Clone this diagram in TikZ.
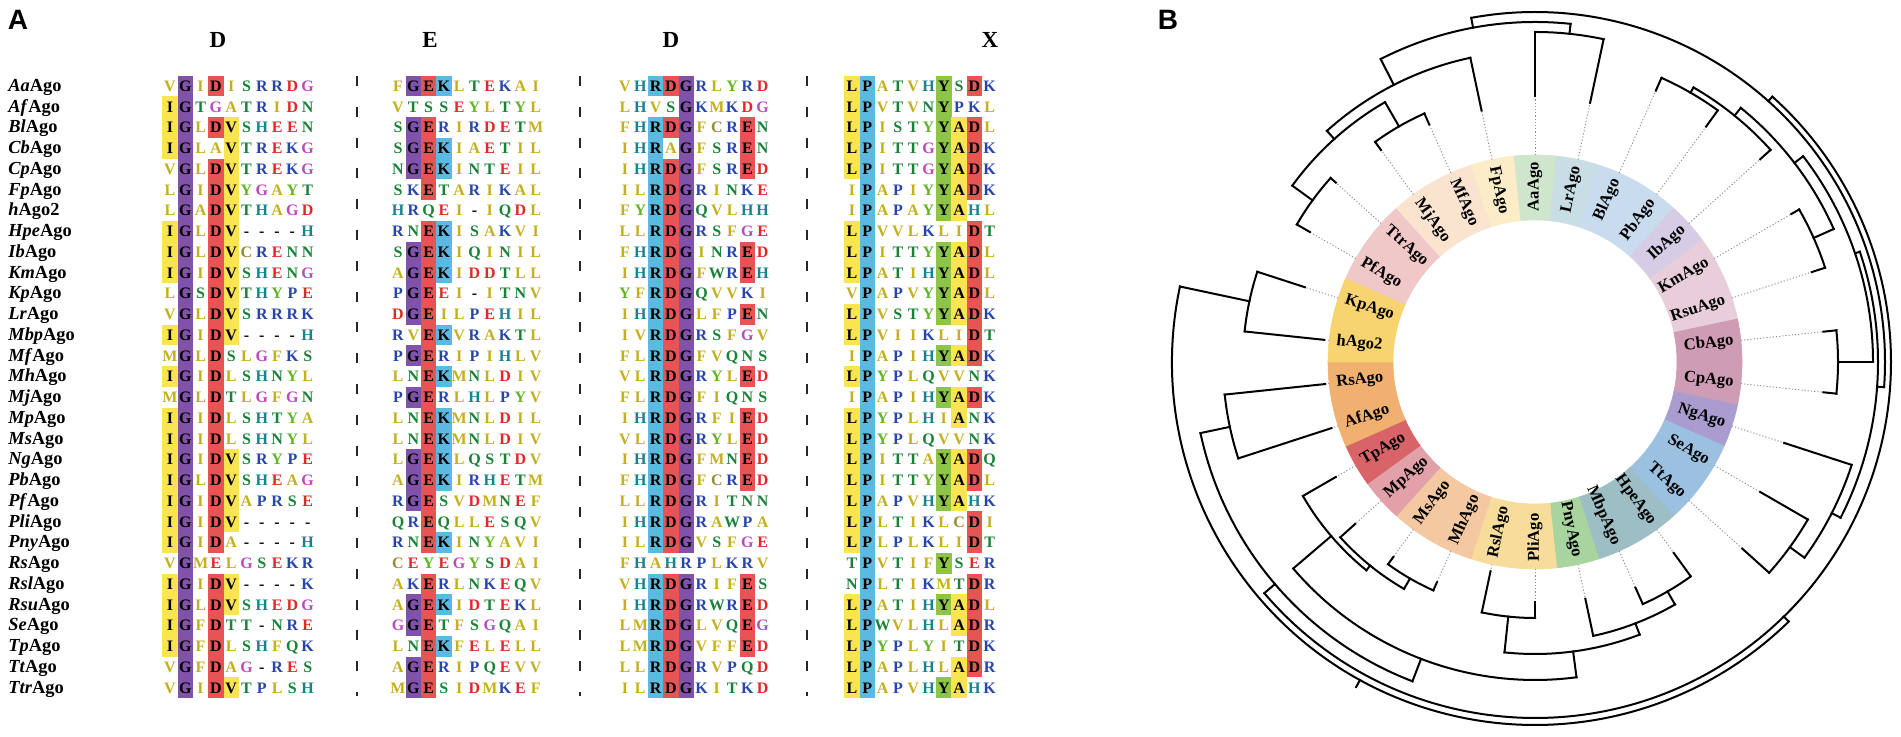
\documentclass[tikz,border=0pt]{standalone}
\usepackage{fontspec}
\setmainfont{Liberation Serif}
\newfontfamily\panelfont{Liberation Sans}

% residue colours
\definecolor{rHyd}{RGB}{196,176,30}
\definecolor{rCys}{RGB}{150,140,50}
\definecolor{rGly}{RGB}{190,70,190}
\definecolor{rBas}{RGB}{40,70,170}
\definecolor{rAcd}{RGB}{225,40,40}
\definecolor{rPol}{RGB}{25,130,55}
\definecolor{rHis}{RGB}{25,130,140}
\definecolor{rTyr}{RGB}{100,180,40}
% conserved column shading
\definecolor{hYel}{RGB}{250,228,80}
\definecolor{hPur}{RGB}{128,82,170}
\definecolor{hRed}{RGB}{232,84,84}
\definecolor{hBlu}{RGB}{92,186,226}
\definecolor{hGrn}{RGB}{142,196,72}
% ring sectors
\definecolor{sGrn}{RGB}{207,230,205}
\definecolor{sSlt}{RGB}{200,222,228}
\definecolor{sSky}{RGB}{200,220,238}
\definecolor{sLav}{RGB}{214,204,230}
\definecolor{sRos}{RGB}{232,206,218}
\definecolor{sMau}{RGB}{206,156,180}
\definecolor{sVio}{RGB}{170,156,206}
\definecolor{sBlu}{RGB}{156,192,224}
\definecolor{sTea}{RGB}{156,190,196}
\definecolor{sLea}{RGB}{168,212,160}
\definecolor{sStr}{RGB}{248,220,156}
\definecolor{sPea}{RGB}{244,200,160}
\definecolor{sPnk}{RGB}{226,160,168}
\definecolor{sRed}{RGB}{216,100,104}
\definecolor{sOra}{RGB}{240,176,112}
\definecolor{sGol}{RGB}{248,212,112}
\definecolor{sBlh}{RGB}{240,200,200}
\definecolor{sCrm}{RGB}{250,228,208}
\definecolor{sIvo}{RGB}{252,236,200}

\newcount\colcnt
\def\setres#1#2{\expandafter\def\csname rc-#1\endcsname{#2}}
\def\sethl#1#2#3#4{\expandafter\def\csname hl-#1-#2-#3\endcsname{#4}}

\setres{A}{rHyd}\setres{V}{rHyd}\setres{I}{rHyd}\setres{L}{rHyd}\setres{M}{rHyd}\setres{F}{rHyd}
\setres{C}{rCys}\setres{G}{rGly}
\setres{R}{rBas}\setres{K}{rBas}\setres{P}{rBas}
\setres{D}{rAcd}\setres{E}{rAcd}
\setres{S}{rPol}\setres{T}{rPol}\setres{N}{rPol}\setres{Q}{rPol}\setres{W}{rPol}
\setres{H}{rHis}\setres{Y}{rTyr}

% block, column, residue -> shade
\sethl{1}{1}{I}{hYel}\sethl{1}{2}{G}{hPur}\sethl{1}{4}{D}{hRed}\sethl{1}{5}{V}{hYel}
\sethl{2}{2}{G}{hPur}\sethl{2}{3}{E}{hRed}\sethl{2}{4}{K}{hBlu}
\sethl{3}{3}{R}{hBlu}\sethl{3}{4}{D}{hRed}\sethl{3}{5}{G}{hPur}\sethl{3}{9}{E}{hRed}
\sethl{4}{1}{L}{hYel}\sethl{4}{2}{P}{hBlu}\sethl{4}{7}{Y}{hGrn}\sethl{4}{8}{A}{hYel}\sethl{4}{9}{D}{hRed}

\newcommand\putres[1]{%
  \advance\colcnt by 1
  \pgfmathsetmacro\cx{\bx+15.3*(\the\colcnt-1)}%
  \ifcsname hl-\blk-\the\colcnt-#1\endcsname
    \edef\hlc{\csname hl-\blk-\the\colcnt-#1\endcsname}%
    \fill[fill=\hlc] (\cx-7.7,\cy-10.45) rectangle (\cx+7.7,\cy+10.45);
    \def\lc{black}%
  \else
    \edef\lc{\ifcsname rc-#1\endcsname\csname rc-#1\endcsname\else black\fi}%
  \fi
  \node[res, text=\lc] (r\blk-\rowid-\the\colcnt) at (\cx,\cyb) {#1};}
\def\scanseq#1{\ifx\relax#1\let\seqnext\relax\else\putres{#1}\let\seqnext\scanseq\fi\seqnext}

\newcommand\alnrow[7]{%
  \def\rowid{#1}%
  \pgfmathsetmacro\cy{651-20.75*#1}%
  \pgfmathsetmacro\cyb{\cy-5.3}%
  \node[seqname] (n#1) at (8,\cyb) {\textit{#2}#3};
  \def\blk{1}\def\bx{170}\colcnt=0 \scanseq#4\relax
  \def\blk{2}\def\bx{398}\colcnt=0 \scanseq#5\relax
  \def\blk{3}\def\bx{625}\colcnt=0 \scanseq#6\relax
  \def\blk{4}\def\bx{852}\colcnt=0 \scanseq#7\relax}

% arc at radius #3 from angle #1 to #2, stem out to #4
\newcommand\clade[4]{%
  \pgfmathsetmacro\cmid{(#1+#2)/2}%
  \draw[treeline] (#1:#3) arc[start angle=#1, end angle=#2, radius=#3];
  \draw[treeline] (\cmid:#3) -- (\cmid:#4);}

\def\leaflist{AaAgo/sGrn/266/330, LrAgo/sSlt/265/330, BlAgo/sSky/297/311,
  PbAgo/sSky/291/311, IbAgo/sLav/303/317, KmAgo/sRos/296/305, RsuAgo/sRos/291/305,
  CbAgo/sMau/290/303, CpAgo/sMau/290/303, NgAgo/sVio/262/333, SeAgo/sBlu/260/315,
  TtAgo/sBlu/279/315, HpeAgo/sTea/236/265, MbpAgo/sTea/247/265, PnyAgo/sLea/242/280,
  PliAgo/sStr/240/256, RslAgo/sStr/214/256, MhAgo/sPea/241/250, MsAgo/sPea/241/250,
  MpAgo/sPnk/242/262, TpAgo/sRed/230/268, AfAgo/sOra/214/312, RsAgo/sOra/211/312,
  hAgo2/sGol/212/292, KpAgo/sGol/242/292, PfAgo/sBlh/260/275, TtrAgo/sBlh/268/275,
  MjAgo/sCrm/262/272, MfAgo/sCrm/260/272, FpAgo/sIvo/257/311}

\begin{document}
\begin{tikzpicture}[x=0.5pt,y=0.5pt]
  \tikzstyle{res} = [inner sep=0pt, anchor=base, font=\fontsize{8}{8}\selectfont\bfseries];
  \tikzstyle{seqname} = [inner sep=0pt, anchor=base west, font=\fontsize{9.2}{10}\selectfont\bfseries];
  \tikzstyle{hdr} = [inner sep=0pt, anchor=base, font=\fontsize{11.5}{12}\selectfont\bfseries];
  \tikzstyle{panel} = [inner sep=0pt, font=\panelfont\fontsize{14}{14}\selectfont\bfseries];
  \tikzstyle{sepline} = [line width=1.1pt, black!85, dash pattern=on 5pt off 10.4pt];
  \tikzstyle{treeline} = [line width=1pt, black, line cap=rect];
  \tikzstyle{leadline} = [line width=0.45pt, black!45, dash pattern=on 0.6pt off 1pt];
  \tikzstyle{leaflbl} = [inner sep=1pt, font=\fontsize{8.3}{9}\selectfont\bfseries];

  \useasboundingbox (0,0) rectangle (1901,737);

  \node[panel] (pA) at (18,717) {A};
  \node[panel] (pB) at (1168,717) {B};

  % motif heads and block separators
  \node[hdr] (hD1) at (218,689.5) {D};
  \node[hdr] (hE) at (430,689.5) {E};
  \node[hdr] (hD2) at (671,689.5) {D};
  \node[hdr] (hX) at (990,689.5) {X};
  \draw[sepline] (357,661) -- (357,41);
  \draw[sepline] (580,661) -- (580,41);
  \draw[sepline] (807,661) -- (807,41);

  \alnrow{0}{Aa}{Ago}{VGIDISRRDG}{FGEKLTEKAI}{VHRDGRLYRD}{LPATVHYSDK}
  \alnrow{1}{Af}{Ago}{IGTGATRIDN}{VTSSEYLTYL}{LHVSGKMKDG}{LPVTVNYPKL}
  \alnrow{2}{Bl}{Ago}{IGLDVSHEEN}{SGERIRDETM}{FHRDGFCREN}{LPISTYYADL}
  \alnrow{3}{Cb}{Ago}{IGLAVTREKG}{SGEKIAETIL}{IHRAGFSREN}{LPITTGYADK}
  \alnrow{4}{Cp}{Ago}{VGLDVTREKG}{NGEKINTEIL}{IHRDGFSRED}{LPITTGYADK}
  \alnrow{5}{Fp}{Ago}{LGIDVYGAYT}{SKETARIKAL}{ILRDGRINKE}{IPAPIYYADK}
  \alnrow{6}{h}{Ago2}{LGADVTHAGD}{HRQEI-IQDL}{FYRDGQVLHH}{IPAPAYYAHL}
  \alnrow{7}{Hpe}{Ago}{IGLDV----H}{RNEKISAKVI}{LLRDGRSFGE}{LPVVLKLIDT}
  \alnrow{8}{Ib}{Ago}{IGLDVCRENN}{SGEKIQINIL}{FHRDGINRED}{LPITTYYADL}
  \alnrow{9}{Km}{Ago}{IGIDVSHENG}{AGEKIDDTLL}{IHRDGFWREH}{LPATIHYADL}
  \alnrow{10}{Kp}{Ago}{LGSDVTHYPE}{PGEEI-ITNV}{YFRDGQVVKI}{VPAPVYYADL}
  \alnrow{11}{Lr}{Ago}{VGLDVSRRRK}{DGEILPEHIL}{IHRDGLFPEN}{LPVSTYYADK}
  \alnrow{12}{Mbp}{Ago}{IGIDV----H}{RVEKVRAKTL}{IVRDGRSFGV}{LPVIIKLIDT}
  \alnrow{13}{Mf}{Ago}{MGLDSLGFKS}{PGERIPIHLV}{FLRDGFVQNS}{IPAPIHYADK}
  \alnrow{14}{Mh}{Ago}{IGIDLSHNYL}{LNEKMNLDIV}{VLRDGRYLED}{LPYPLQVVNK}
  \alnrow{15}{Mj}{Ago}{MGLDTLGFGN}{PGERLHLPYV}{FLRDGFIQNS}{IPAPIHYADK}
  \alnrow{16}{Mp}{Ago}{IGIDLSHTYA}{LNEKMNLDIL}{IHRDGRFIED}{LPYPLHIANK}
  \alnrow{17}{Ms}{Ago}{IGIDLSHNYL}{LNEKMNLDIV}{VLRDGRYLED}{LPYPLQVVNK}
  \alnrow{18}{Ng}{Ago}{IGIDVSRYPE}{LGEKLQSTDV}{IHRDGFMNED}{LPITTAYADQ}
  \alnrow{19}{Pb}{Ago}{IGLDVSHEAG}{AGEKIRHETM}{FHRDGFCRED}{LPITTYYADL}
  \alnrow{20}{Pf}{Ago}{IGIDVAPRSE}{RGESVDMNEF}{LLRDGRITNN}{LPAPVHYAHK}
  \alnrow{21}{Pli}{Ago}{IGIDV-----}{QREQLLESQV}{IHRDGRAWPA}{LPLTIKLCDI}
  \alnrow{22}{Pny}{Ago}{IGIDA----H}{RNEKINYAVI}{ILRDGVSFGE}{LPLPLKLIDT}
  \alnrow{23}{Rs}{Ago}{VGMELGSEKR}{CEYEGYSDAI}{FHAHRPLKRV}{TPVTIFYSER}
  \alnrow{24}{Rsl}{Ago}{IGIDV----K}{AKERLNKEQV}{VHRDGRIFES}{NPLTIKMTDR}
  \alnrow{25}{Rsu}{Ago}{IGLDVSHEDG}{AGEKIDTEKL}{IHRDGRWRED}{LPATIHYADL}
  \alnrow{26}{Se}{Ago}{IGFDTT-NRE}{GGETFSGQAI}{LMRDGLVQEG}{LPWVLHLADR}
  \alnrow{27}{Tp}{Ago}{IGFDLSHFQK}{LNEKFELELL}{LMRDGVFFED}{LPYPLYITDK}
  \alnrow{28}{Tt}{Ago}{VGFDAG-RES}{AGERIPQEVV}{LLRDGRVPQD}{LPAPLHLADR}
  \alnrow{29}{Ttr}{Ago}{VGIDVTPLSH}{MGESIDMKEF}{ILRDGKITKD}{LPAPVHYAHK}

  % tree
  \begin{scope}[shift={(1535,375)}]
    \foreach \nm/\fc/\tp/\pr [count=\i from 0] in \leaflist {
      \pgfmathsetmacro\ang{90-12*\i}
      \fill[fill=\fc, draw=\fc, line width=0.3pt] ({\ang-6}:142) arc[start angle=\ang-6, end angle=\ang+6, radius=142]
        -- ({\ang+6}:207) arc[start angle=\ang+6, end angle=\ang-6, radius=207] -- cycle;
    }
    \foreach \nm/\fc/\tp/\pr [count=\i from 0] in \leaflist {
      \pgfmathsetmacro\ang{90-12*\i}
      \draw[leadline] (\ang:207) -- (\ang:\tp);
      \draw[treeline] (\ang:\tp) -- (\ang:\pr);
      \ifnum\i<15
        \node[leaflbl, rotate=\ang, anchor=east] (\nm) at (\ang:202) {\nm};
      \else
        \pgfmathsetmacro\rot{\ang+180}
        \node[leaflbl, rotate=\rot, anchor=west] (\nm) at (\ang:202) {\nm};
      \fi
    }
    \clade{66}{54}{311}{317}
    \clade{60}{42}{317}{327}
    \clade{30}{18}{305}{327}
    \clade{51}{24}{327}{338}
    \clade{6}{-6}{303}{338}
    \clade{37.5}{0}{338}{343}
    \clade{-30}{-42}{315}{333}
    \clade{-18}{-36}{333}{343}
    \clade{18.75}{-27}{343}{350}
    \clade{90}{78}{330}{340}
    \clade{-210}{-222}{275}{300}
    \clade{-234}{-246}{272}{300}
    \clade{-216}{-240}{300}{311}
    \clade{-228}{-258}{311}{340}
    \clade{117}{84}{340}{350}
    \clade{100.5}{-4.125}{350}{356}
    \clade{-54}{-66}{265}{280}
    \clade{-60}{-78}{280}{292}
    \clade{-90}{-102}{256}{292}
    \clade{-69}{-96}{292}{318}
    \clade{-114}{-126}{250}{262}
    \clade{-120}{-138}{262}{268}
    \clade{-129}{-150}{268}{318}
    \clade{-82.5}{-139.5}{318}{342}
    \clade{-162}{-174}{312}{342}
    \clade{-111}{-168}{342}{356}
    \clade{-186}{-198}{292}{363}
    \clade{-139.5}{48.1875}{356}{363}
    \clade{-192}{-45.65625}{363}{371}
  \end{scope}
\end{tikzpicture}
\end{document}
